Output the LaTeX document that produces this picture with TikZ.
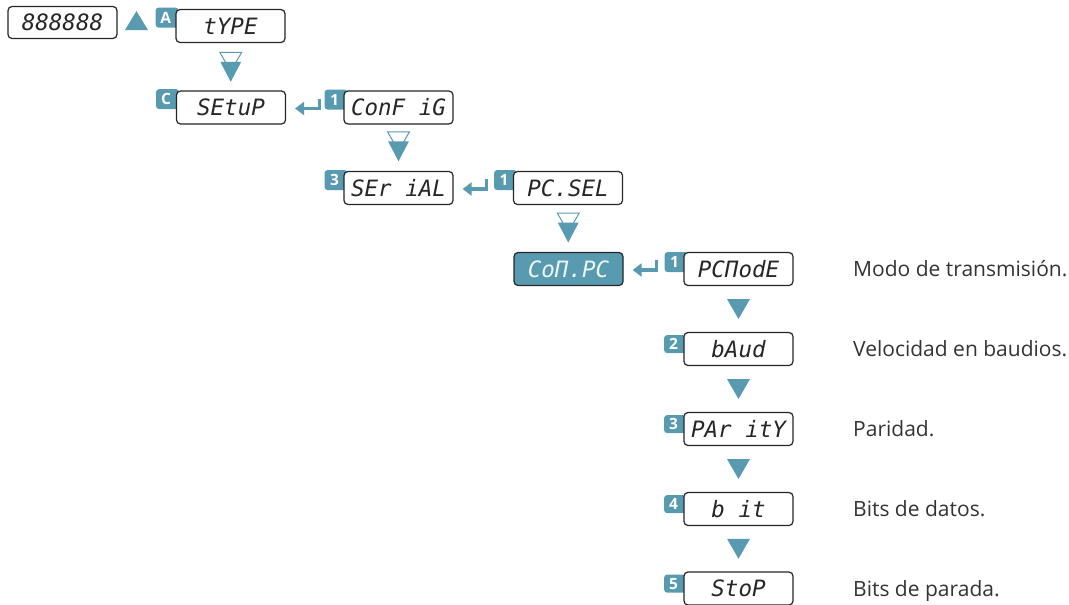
\documentclass[tikz,border=0pt]{standalone}
\usepackage{fontspec}
\setmainfont{Open Sans}
\newfontfamily\segfont{DejaVu Sans Mono}
\usetikzlibrary{arrows.meta,calc}
\definecolor{tealc}{RGB}{88,154,176}
\definecolor{ink}{RGB}{38,38,38}
\definecolor{txt}{RGB}{51,51,51}
\pgfdeclarelayer{bg}
\pgfsetlayers{bg,main}
\tikzset{
  disp/.style={draw=ink, line width=1.2pt, rounded corners=4pt, fill=white,
    minimum width=109pt, minimum height=33pt, inner sep=0pt, text=ink,
    font=\segfont\itshape\fontsize{22.5}{22.5}\selectfont},
  active/.style={disp, fill=tealc, text={rgb,255:red,238;green,245;blue,247}},
  badgeup/.style={fill=tealc, rounded corners=3pt, minimum width=23pt, minimum height=20pt,
    inner sep=0pt, text=white, font=\bfseries\fontsize{15.5}{15.5}\selectfont, anchor=north west},
  badgelow/.style={badgeup, minimum width=22pt, minimum height=18pt},
  desc/.style={anchor=base west, text=txt, font=\fontsize{21}{21}\selectfont, inner sep=0pt},
  ret/.style={tealc, line width=3.2pt, -{Triangle[length=9pt,width=13pt]}},
  downtri/.pic={\fill[tealc] (-11.5,-10) -- (11.5,-10) -- (0,10) -- cycle;},
  uptri/.pic={\fill[tealc] (-11.5,9.5) -- (11.5,9.5) -- (0,-9.5) -- cycle;},
  combo/.pic={\draw[tealc, fill=white, line width=1pt] (-11,-14.5) -- (11,-14.5) -- (0,4.5) -- cycle;
              \fill[tealc] (-10.5,-5) -- (10.5,-5) -- (0,15) -- cycle;}
}
\begin{document}
\begin{tikzpicture}[x=1pt,y=-1pt]
\useasboundingbox (0,0) rectangle (1069,605);
% displays
\node[disp, minimum height=32pt] (all) at (62.5,22.5) {888888};
\node[disp] (type) at (230.5,26) {tYPE};
\node[disp] (setup) at (231,107.5) {SEtuP};
\node[disp] (config) at (398.5,107.5) {ConF iG};
\node[disp] (serial) at (398.5,188) {SEr iAL};
\node[disp] (pcsel) at (568,188) {PC.SEL};
\node[active] (conpc) at (568.5,269) {CoΠ.PC};
\node[disp] (pcmode) at (738.5,269) {PCΠodE};
\node[disp] (baud) at (738.5,349) {bAud};
\node[disp] (parity) at (738.5,429) {PAr itY};
\node[disp] (bit) at (738.5,509) {b it};
\node[disp] (stop) at (738.5,588.5) {StoP};
% badges
\begin{pgfonlayer}{bg}
\node[badgeup] (bA) at ([shift={(-20,-1.5)}]type.north west) {\hspace*{-3pt}A};
\node[badgeup] (bC) at ([shift={(-20,-1.5)}]setup.north west) {\hspace*{-3pt}C};
\node[badgeup] (b1a) at ([shift={(-19,-1)}]config.north west) {\hspace*{-3pt}1};
\node[badgeup] (b3a) at ([shift={(-19,-1)}]serial.north west) {\hspace*{-3pt}3};
\node[badgeup] (b1b) at ([shift={(-19,-1)}]pcsel.north west) {\hspace*{-3pt}1};
\node[badgeup] (b1c) at ([shift={(-19,0)}]pcmode.north west) {\hspace*{-3pt}1};
\node[badgelow] (b2) at ([shift={(-19.5,3)}]baud.north west) {\hspace*{-3pt}2};
\node[badgelow] (b3) at ([shift={(-19.5,3)}]parity.north west) {\hspace*{-3pt}3};
\node[badgelow] (b4) at ([shift={(-19.5,3)}]bit.north west) {\hspace*{-3pt}4};
\node[badgelow] (b5) at ([shift={(-19.5,3)}]stop.north west) {\hspace*{-3pt}5};
\end{pgfonlayer}
% triangles
\pic at ($(all.east)!0.5!(bA.west)+(0,0.5)$) {uptri};
\pic at ($(type.south)!0.5!(setup.north)$) {combo};
\pic at ($(config.south)!0.5!(serial.north)+(0,-1.5)$) {combo};
\pic at ($(pcsel.south)!0.5!(conpc.north)+(0,-1)$) {combo};
\pic at ($(pcmode.south)!0.5!(baud.north)$) {downtri};
\pic at ($(baud.south)!0.5!(parity.north)$) {downtri};
\pic at ($(parity.south)!0.5!(bit.north)$) {downtri};
\pic at ($(bit.south)!0.5!(stop.north)$) {downtri};
% return arrows
\draw[ret] ([shift={(33,-9)}]setup.east) |- ([shift={(9,1)}]setup.east);
\draw[ret] ([shift={(33,-9)}]serial.east) |- ([shift={(9,1)}]serial.east);
\draw[ret] ([shift={(33,-9)}]conpc.east) |- ([shift={(9,1)}]conpc.east);
% descriptions
\node[desc] (d1) at (853,276.5) {Modo de transmisión.};
\node[desc] (d2) at (853,356.5) {Velocidad en baudios.};
\node[desc] (d3) at (853,436.5) {Paridad.};
\node[desc] (d4) at (853,516.5) {Bits de datos.};
\node[desc] (d5) at (853,596.5) {Bits de parada.};
\end{tikzpicture}
\end{document}
